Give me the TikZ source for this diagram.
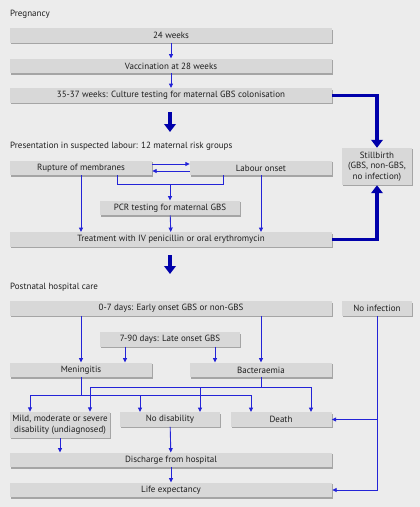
\documentclass[tikz,border=0pt]{standalone}
\usepackage{fontspec}
\setmainfont{PT Sans}
\usepackage{tikz}
\usetikzlibrary{arrows.meta}
\usetikzlibrary{shadows}
\usetikzlibrary{positioning}

\definecolor{bggrey}{RGB}{236,236,236}
\definecolor{boxgrey}{RGB}{216,216,216}
\definecolor{shadegrey}{RGB}{165,165,165}
\definecolor{lineblue}{RGB}{35,35,215}
\definecolor{fatblue}{RGB}{0,0,170}
\definecolor{txt}{RGB}{30,30,30}

\tikzset{
  box/.style={fill=boxgrey, text=txt, inner sep=0pt, minimum height=14.5pt, align=center,
    font=\fontsize{9}{10.6}\selectfont,
    drop shadow={shadow xshift=1.4pt, shadow yshift=-1.4pt, fill=shadegrey, opacity=1}},
  wide/.style={box, minimum width=322pt},
  half/.style={box, minimum width=142pt},
  mid/.style={box, minimum width=140pt},
  side/.style={box, minimum width=70pt},
  third/.style={box, minimum width=101pt},
  sect/.style={anchor=west, inner sep=0pt, text=txt, font=\fontsize{9}{10.6}\selectfont},
  ln/.style={draw=lineblue, line width=0.9pt},
  arr/.style={ln, -{Triangle[width=4pt,length=4.5pt]}},
  fat/.style={draw=fatblue, line width=3.8pt, -{Triangle[width=11.5pt,length=8pt]}}
}

\begin{document}
\begin{tikzpicture}[x=1pt,y=-1pt]

  \fill[bggrey] (0,0) rectangle (420,507);
  \useasboundingbox (0,0) rectangle (420,507);

  \node[sect] (preg) at (10,14) {Pregnancy};
  \node[wide] (w24) at (171,35.5) {24 weeks};
  \node[wide] (vacc) at (171,66) {Vaccination at 28 weeks};
  \node[wide] (cult) at (171,95.5) {35-37 weeks: Culture testing for maternal GBS colonisation};

  \node[sect] (pres) at (10,146) {Presentation in suspected labour: 12 maternal risk groups};
  \node[half] (rupt) at (81,168) {Rupture of membranes};
  \node[half] (labr) at (261,168) {Labour onset};
  \node[mid] (pcr) at (170,208) {PCR testing for maternal GBS};
  \node[wide] (treat) at (171,239.5) {Treatment with IV penicillin or oral erythromycin};
  \node[side, minimum height=37pt] (still) at (377,166.5) {Stillbirth\\(GBS, non-GBS,\\no infection)};

  \node[sect] (post) at (10,287) {Postnatal hospital care};
  \node[wide] (early) at (171,308.5) {0-7 days: Early onset GBS or non-GBS};
  \node[side] (noinf) at (377,308.5) {No infection};
  \node[mid] (late) at (170,339.5) {7-90 days: Late onset GBS};
  \node[half] (menin) at (81,370) {Meningitis};
  \node[half] (bact) at (261,370) {Bacteraemia};
  \node[third, minimum width=100pt, minimum height=26pt] (mild) at (60,425) {Mild, moderate or severe\\disability (undiagnosed)};
  \node[third, minimum width=100pt] (nodis) at (170,419.5) {No disability};
  \node[third] (death) at (281,419.5) {Death};
  \node[wide] (disch) at (171,460) {Discharge from hospital};
  \node[wide] (life) at (171,490) {Life expectancy};

  \coordinate (fa1) at (170,112);
  \coordinate (fa2) at (170,132);
  \coordinate (fb1) at (170,255);
  \coordinate (fb2) at (170,274);
  \coordinate (mrg) at (170,184.5);
  \coordinate (mbus) at ([yshift=-18pt]menin.south);
  \coordinate (bbus) at ([yshift=-10pt]bact.south);

  \draw[arr] (w24) -- (vacc);
  \draw[arr] (vacc) -- (cult);
  \draw[fat] (cult.east) -| (still.north);
  \draw[fat] (fa1) -- (fa2);

  \draw[arr] ([yshift=4pt]rupt.east) -- ([yshift=4pt]labr.west);
  \draw[arr] ([yshift=-3pt]labr.west) -- ([yshift=-3pt]rupt.east);
  \draw[ln] ([xshift=36pt]rupt.south) |- (mrg) -| ([xshift=-38pt]labr.south);
  \draw[arr] (mrg) -- (pcr);
  \draw[arr] (rupt.south) -- (rupt.south |- treat.north);
  \draw[arr] (labr.south) -- (labr.south |- treat.north);
  \draw[arr] (pcr) -- (treat);
  \draw[fat] (treat.east) -| (still.south);
  \draw[fat] (fb1) -- (fb2);

  \draw[arr] (menin.north |- early.south) -- (menin.north);
  \draw[arr] (bact.north |- early.south) -- (bact.north);
  \draw[arr] ([xshift=-45pt]late.south) -- ([xshift=-45pt]late.south |- menin.north);
  \draw[arr] ([xshift=45pt]late.south) -- ([xshift=45pt]late.south |- bact.north);

  \draw[ln] (menin.south) -- (mbus);
  \draw[ln] (bact.south) -- (bbus);
  \draw[arr] (bbus) -| ([xshift=30pt]mild.north);
  \draw[arr] (bbus) -| ([xshift=30pt]nodis.north);
  \draw[arr] (bbus) -| ([xshift=30pt]death.north);
  \draw[arr] (mbus) -| ([xshift=-30pt]mild.north);
  \draw[arr] (mbus) -| ([xshift=-30pt]nodis.north);
  \draw[arr] (mbus) -| ([xshift=-30pt]death.north);

  \draw[arr] (noinf.south) |- (life.east);
  \draw[arr] (noinf.south |- death.east) -- (death.east);
  \draw[arr] (mild.south) -- (mild.south |- disch.north);
  \draw[arr] (nodis) -- (disch);
  \draw[arr] (disch) -- (life);

\end{tikzpicture}
\end{document}
